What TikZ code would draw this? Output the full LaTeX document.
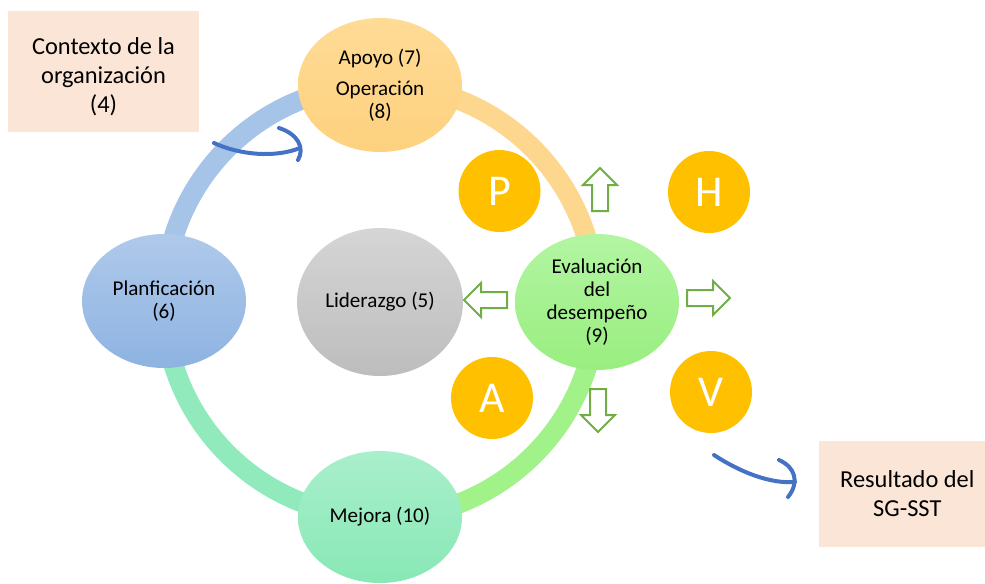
\documentclass[tikz,border=0pt]{standalone}
\usepackage{fontspec}
\setmainfont{Carlito}
\usetikzlibrary{shapes.geometric,backgrounds}
\definecolor{peach}{HTML}{FBE5D6}
\definecolor{gold}{HTML}{FFC000}
\definecolor{arrowgreen}{HTML}{70AD47}
\definecolor{curveblue}{HTML}{4472C4}
\definecolor{planA}{HTML}{AFC9EA}
\definecolor{planB}{HTML}{8EB3E2}
\definecolor{apoA}{HTML}{FFDB96}
\definecolor{apoB}{HTML}{FDD17E}
\definecolor{liA}{HTML}{D5D5D5}
\definecolor{liB}{HTML}{BDBDBD}
\definecolor{evA}{HTML}{B2F5A2}
\definecolor{evB}{HTML}{99EE80}
\definecolor{meA}{HTML}{A9EFCC}
\definecolor{meB}{HTML}{88E8B5}
\definecolor{ringblue}{HTML}{A6C4E8}
\definecolor{ringorange}{HTML}{FDD78D}
\definecolor{ringgreen}{HTML}{A2F28A}
\definecolor{ringmint}{HTML}{90EABC}
\begin{document}
\begin{tikzpicture}[x=0.75pt,y=-0.75pt,
  phase/.style={ellipse, draw=none, minimum width=123pt, minimum height=100.5pt, inner sep=0pt, align=center, font=\fontsize{15.8}{17.4}\selectfont, text=black},
  letter/.style={circle, fill=gold, minimum size=61.5pt, inner sep=0pt, text=white, font=\fontsize{33}{33}\selectfont},
  infobox/.style={fill=peach, inner sep=0pt, align=center, font=\fontsize{18.3}{21.75}\selectfont},
  ringarc/.style={line width=15pt},
  arrowline/.style={draw=arrowgreen, line width=1.5pt, fill=white, line join=miter},
  curvy/.style={draw=curveblue, line width=3pt, line cap=round},
  blockarrow/.pic={\draw[arrowline] (0,0) -- (17,17) -- (8,17) -- (8,43) -- (-8,43) -- (-8,17) -- (-17,17) -- cycle;}
]
\useasboundingbox (0,0) rectangle (985,583);

\node[infobox, minimum width=143.25pt, minimum height=90.75pt] (contexto) at (103.5,71.5) {\rule{0pt}{20pt}Contexto de la\\organización\\(4)};
\node[infobox, minimum width=124.5pt, minimum height=79.5pt] (resultado) at (902,494) {\hspace*{8pt}Resultado del\\\hspace*{8pt}SG-SST};

\node[phase, top color=planA, bottom color=planB] (plan) at (164,301) {Planficación\\(6)};
\node[phase, top color=apoA, bottom color=apoB] (apoyo) at (380,85) {Apoyo (7)\\[6pt]Operación\\(8)};
\node[phase, minimum width=124.5pt, minimum height=111pt, top color=liA, bottom color=liB] (lider) at (380,302) {Liderazgo (5)};
\node[phase, minimum height=102pt, top color=evA, bottom color=evB] (eval) at (597,302) {Evaluación\\del\\desempeño\\(9)};
\node[phase, minimum height=99pt, top color=meA, bottom color=meB] (mejora) at (380,517) {Mejora (10)};

\begin{scope}[on background layer]
  \draw[ringarc, draw=ringblue] (plan.center) arc[start angle=180, end angle=270, radius=216];
  \draw[ringarc, draw=ringorange] (apoyo.center) arc[start angle=270, end angle=360, radius=216];
  \draw[ringarc, draw=ringgreen] (eval.center) arc[start angle=0, end angle=90, radius=216];
  \draw[ringarc, draw=ringmint] (mejora.center) arc[start angle=90, end angle=180, radius=216];
\end{scope}

\node[letter] (P) at (499.5,191) {P};
\node[letter] (H) at (709,192) {H};
\node[letter] (A) at (492,398) {A};
\node[letter] (V) at (711,392) {V};

\pic (aup) at (600,168) {blockarrow};
\pic[rotate=90] (aleft) at (464,300) {blockarrow};
\pic[rotate=-90] (aright) at (730,298) {blockarrow};
\pic[rotate=180] (adown) at (598,432) {blockarrow};

\coordinate (c1s) at (214,143);
\coordinate (c1e) at (300,148);
\coordinate (c1a) at (279,128);
\coordinate (c1b) at (298,160);
\draw[curvy] (c1s) .. controls (240,155) and (275,158) .. (c1e);
\draw[curvy] (c1a) .. controls (298,134) and (305,148) .. (c1b);

\coordinate (c2s) at (714,455);
\coordinate (c2e) at (795,482);
\coordinate (c2a) at (779,460);
\coordinate (c2b) at (788,497);
\draw[curvy] (c2s) .. controls (740,472) and (770,484) .. (c2e);
\draw[curvy] (c2a) .. controls (795,467) and (800,482) .. (c2b);
\end{tikzpicture}
\end{document}
